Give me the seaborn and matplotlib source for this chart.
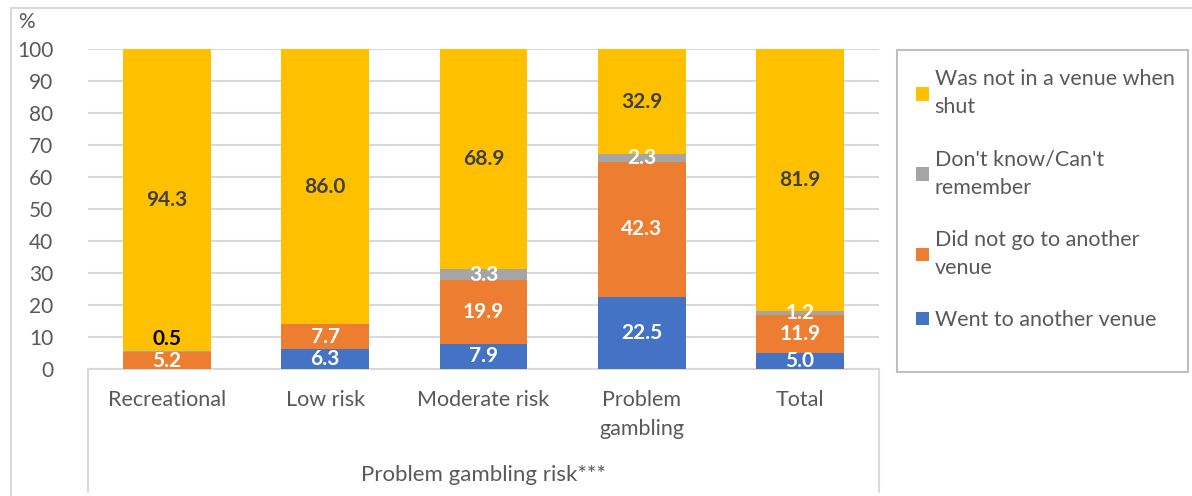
import numpy as np
import pandas as pd
import matplotlib.pyplot as plt
import seaborn as sns
from matplotlib.patches import Rectangle, Patch
from matplotlib.lines import Line2D

# data
categories = ['Recreational', 'Low risk', 'Moderate risk', 'Problem\ngambling', 'Total']
went = [0.0, 6.3, 7.9, 22.5, 5.0]
did_not_go = [5.2, 7.7, 19.9, 42.3, 11.9]
dont_know = [0.5, 0.0, 3.3, 2.3, 1.2]
not_in_venue = [94.3, 86.0, 68.9, 32.9, 81.9]

series_names = ['Went to another venue', 'Did not go to another venue',
                "Don't know/Can't remember", 'Was not in a venue when shut']
legend_labels = ['Went to another venue', 'Did not go to another\nvenue',
                 "Don't know/Can't\nremember", 'Was not in a venue when\nshut']
colors = ['#4472C4', '#ED7D31', '#A5A5A5', '#FFC000']
label_colors = ['white', 'white', 'white', '#404040']

df = pd.DataFrame({'Category': categories,
                   series_names[0]: went,
                   series_names[1]: did_not_go,
                   series_names[2]: dont_know,
                   series_names[3]: not_in_venue})

sns.set_style('white')
plt.rcParams['font.family'] = ['Lato', 'DejaVu Sans']
txt_col = '#595959'

fig = plt.figure(figsize=(11.92, 4.96), dpi=100)
W, H = 1192, 496
ax = fig.add_axes([88/W, 1-369/H, (879-88)/W, (369-49)/H])

# stacked bars
bottom = np.zeros(len(categories))
for name, col in zip(series_names, colors):
    sns.barplot(data=df, x='Category', y=name, color=col, bottom=bottom,
                width=0.556, ax=ax, saturation=1, linewidth=0, zorder=3)
    bottom = bottom + df[name].values

# data labels
bottom = np.zeros(len(categories))
for k, (name, lc) in enumerate(zip(series_names, label_colors)):
    vals = df[name].values
    for i, v in enumerate(vals):
        if v > 0:
            y = bottom[i] + v/2
            c = lc
            if k == 2 and i == 0:
                # small slice label lifted above the bar segment
                y += 4.0
                c = 'black'
            ax.text(i, y, '%.1f' % v, ha='center', va='center', color=c,
                    fontsize=15, fontweight='bold', zorder=5)
    bottom = bottom + vals

ax.set_ylim(0, 100)
ax.set_xlim(-0.5, 4.5)
ax.set_yticks(range(0, 101, 10))
ax.yaxis.grid(True, color='#D9D9D9', linewidth=1.5, zorder=0)
ax.set_axisbelow(True)
for s in ['top', 'right', 'left']:
    ax.spines[s].set_visible(False)
ax.spines['bottom'].set_color('#D9D9D9')
ax.spines['bottom'].set_linewidth(1.5)
ax.tick_params(axis='y', length=0, pad=25, labelsize=15, labelcolor=txt_col)
ax.tick_params(axis='x', length=0, pad=15, labelsize=15.5, labelcolor=txt_col)
for t in ax.get_xticklabels():
    t.set_linespacing(1.55)
    t.set_va('top')
ax.set_ylabel('')
ax.set_xlabel('Problem gambling risk***', fontsize=16, color=txt_col)
ax.xaxis.set_label_coords(0.5, -0.3)
ax.xaxis.label.set_va('top')

# % label
fig.text(18/W, 1-22/H, '%', fontsize=15, color=txt_col, va='center', ha='left')

# category box lines and outer frame
for xp in [88, 879]:
    fig.add_artist(Line2D([xp/W, xp/W], [1-369/H, 1-492/H], color='#D9D9D9', lw=1.5))
fig.add_artist(Line2D([11/W, 11/W], [0, 1-8/H], color='#D9D9D9', lw=1.5))
fig.add_artist(Line2D([11/W, 1], [1-8/H, 1-8/H], color='#D9D9D9', lw=1.5))

# legend
fig.add_artist(Rectangle((897/W, 1-372/H), (1188-897)/W, (372-50)/H, transform=fig.transFigure,
                         fill=False, edgecolor='#BFBFBF', lw=1.5))
handles = [Patch(facecolor=c, edgecolor='none') for c in colors][::-1]
leg = fig.legend(handles, legend_labels[::-1], loc='upper left',
                 bbox_to_anchor=(897/W, 1-50/H), frameon=False, fontsize=15.5,
                 labelcolor=txt_col, handlelength=0.6, handleheight=0.6,
                 handletextpad=0.25, labelspacing=1.5)
for t in leg.get_texts():
    t.set_linespacing(1.5)

fig.savefig('out.png', dpi=100)
